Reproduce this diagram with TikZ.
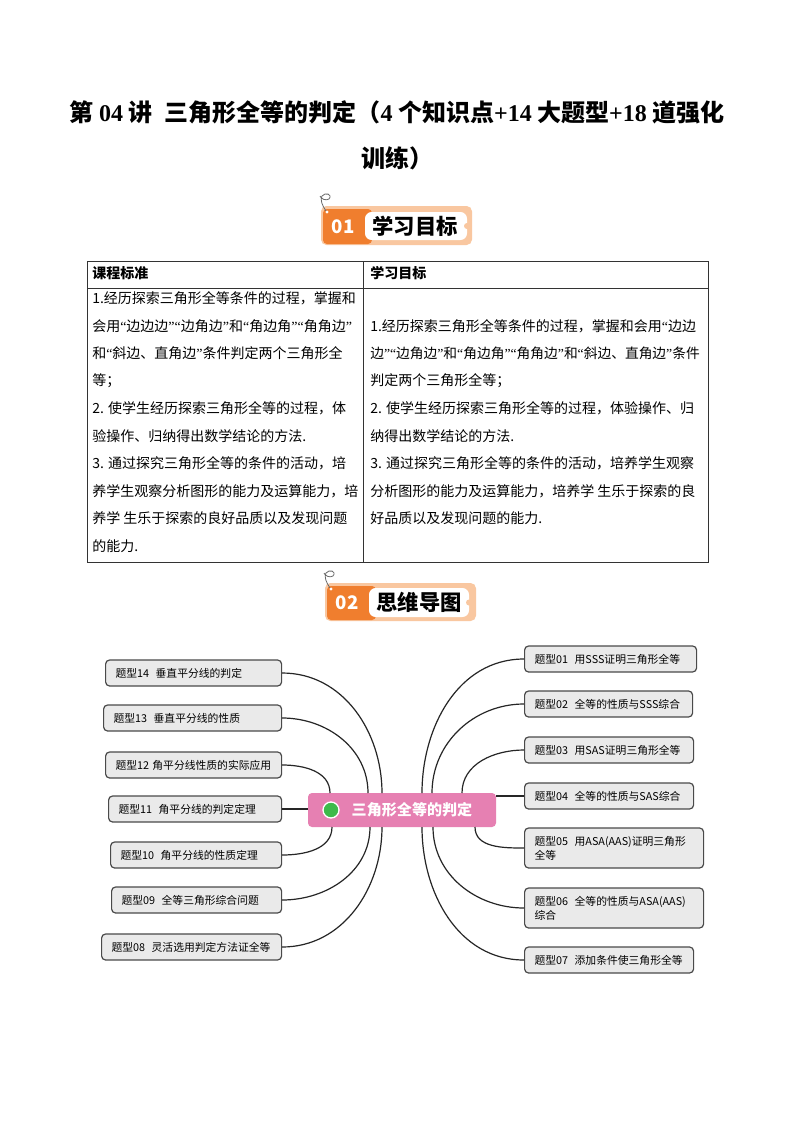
\documentclass[tikz,border=0pt]{standalone}
\usepackage{fontspec}
\setmainfont{Noto Sans CJK SC}
\newfontfamily\tnr{Liberation Serif}
\definecolor{bdgorange}{HTML}{F07E2E}
\definecolor{bdglight}{HTML}{F9C7A0}
\definecolor{tblline}{HTML}{333333}
\definecolor{boxfill}{HTML}{EAEAEA}
\definecolor{boxline}{HTML}{4A4A4A}
\definecolor{ctrpink}{HTML}{E680B2}
\definecolor{ctrgreen}{HTML}{3DBA4A}
\definecolor{curl}{HTML}{6A6A6A}
\newcommand\oq{{\tnr “}}
\newcommand\cq{{\tnr ”}}
\begin{document}
\begin{tikzpicture}[x=0.75pt,y=-0.75pt,
  tl/.style={anchor=west, inner sep=0pt, font=\fontsize{10.5}{12}\selectfont},
  th/.style={anchor=west, inner sep=0pt, font=\bfseries\fontsize{10.5}{12}\selectfont},
  tbl/.style={draw=tblline, line width=0.7pt},
  mmbox/.style={draw=boxline, fill=boxfill, line width=0.9pt, rounded corners=3pt,
     anchor=west, inner xsep=7.5pt, inner ysep=0pt, minimum height=19.5pt,
     text width=#1, align=left, font=\fontsize{8.1}{10.5}\selectfont},
  conn/.style={draw=black!85, line width=0.9pt},
  bdgnum/.style={inner sep=0pt, text=white, font=\bfseries\fontsize{14}{16}\selectfont},
  bdgtxt/.style={inner sep=0pt, text=black, font=\bfseries\fontsize{16}{18}\selectfont}
]
\useasboundingbox (0,0) rectangle (794,1122);
\fill[white] (0,0) rectangle (794,1122);

% ---------- title ----------
\node[inner sep=0pt, font=\bfseries\fontsize{18}{22}\selectfont] (title1) at (397,112)
  {第 {\tnr 04} 讲\hspace{0.5em}三角形全等的判定（{\tnr 4} 个知识点{\tnr +14} 大题型{\tnr +18} 道强化};
\node[inner sep=0pt, font=\bfseries\fontsize{18}{22}\selectfont] (title2) at (397,158) {训练）};

% ---------- badge 01 ----------
\fill[bdglight, rounded corners=4pt] (321,206) rectangle (472,245);
\fill[bdgorange, rounded corners=3pt] (323,209) rectangle (372,244);
\fill[white, rounded corners=5pt] (365,212) rectangle (467,240);
\fill[bdglight] (467,226) circle (3);
\fill[white] (327,212) circle (1.6);
\draw[curl, line width=0.6pt] (326,211) .. controls (322,205) and (320,200) .. (322,196)
  .. controls (325,192) and (333,194) .. (329,199) .. controls (326,201) and (321,199) .. (320,196);
\node[bdgnum] (b1num) at (343,227) {01};
\node[bdgtxt] (b1txt) at (415,226) {学习目标};

% ---------- table ----------
\draw[tbl] (87,261) rectangle (708,562);
\draw[tbl] (87,288) -- (708,288);
\draw[tbl] (363,261) -- (363,562);
\node[th] (h1) at (92,273) {课程标准};
\node[th] (h2) at (370,273) {学习目标};

\node[tl] (l0) at (92,298.5) {1.经历探索三角形全等条件的过程，掌握和};
\node[tl] (l1) at (92,326) {会用\oq 边边边\cq\oq 边角边\cq 和\oq 角边角\cq\oq 角角边\cq};
\node[tl] (l2) at (92,353.5) {和\oq 斜边、直角边\cq 条件判定两个三角形全};
\node[tl] (l3) at (92,381) {等；};
\node[tl] (l4) at (92,408.5) {2. 使学生经历探索三角形全等的过程，体};
\node[tl] (l5) at (92,436) {验操作、归纳得出数学结论的方法.};
\node[tl] (l6) at (92,463.5) {3. 通过探究三角形全等的条件的活动，培};
\node[tl] (l7) at (92,491) {养学生观察分析图形的能力及运算能力，培};
\node[tl] (l8) at (92,518.5) {养学 生乐于探索的良好品质以及发现问题};
\node[tl] (l9) at (92,546) {的能力.};

\node[tl] (r1) at (370,326) {1.经历探索三角形全等条件的过程，掌握和会用\oq 边边};
\node[tl, font=\fontsize{10.3}{12}\selectfont] (r2) at (370,353.5) {边\cq\oq 边角边\cq 和\oq 角边角\cq\oq 角角边\cq 和\oq 斜边、直角边\cq 条件};
\node[tl] (r3) at (370,381) {判定两个三角形全等；};
\node[tl] (r4) at (370,408.5) {2. 使学生经历探索三角形全等的过程，体验操作、归};
\node[tl] (r5) at (370,436) {纳得出数学结论的方法.};
\node[tl] (r6) at (370,463.5) {3. 通过探究三角形全等的条件的活动，培养学生观察};
\node[tl] (r7) at (370,491) {分析图形的能力及运算能力，培养学 生乐于探索的良};
\node[tl] (r8) at (370,518.5) {好品质以及发现问题的能力.};

% ---------- badge 02 ----------
\fill[bdglight, rounded corners=4pt] (325,583) rectangle (476,621);
\fill[bdgorange, rounded corners=3pt] (327,586) rectangle (376,620);
\fill[white, rounded corners=5pt] (369,588) rectangle (469,617);
\fill[bdglight] (469,602.5) circle (3);
\fill[white] (331,589) circle (1.6);
\draw[curl, line width=0.6pt] (330,588) .. controls (326,582) and (324,577) .. (326,573)
  .. controls (329,569) and (337,571) .. (333,576) .. controls (330,578) and (325,576) .. (324,573);
\node[bdgnum] (b2num) at (347,603) {02};
\node[bdgtxt] (b2txt) at (419,602) {思维导图};

% ---------- mind map ----------
\node[fill=ctrpink, rounded corners=3pt, minimum width=141pt, minimum height=25.5pt, inner sep=0pt] (ctr) at (402,810) {};
\node[circle, fill=ctrgreen, draw=white, line width=1pt, minimum size=12pt, inner sep=0pt] (dot) at (331,810) {};
\node[inner sep=0pt, text=white, font=\bfseries\fontsize{11.3}{13}\selectfont] (ctrtxt) at (412,809.5) {三角形全等的判定};

% left boxes
\node[mmbox=117pt] (n14) at (105,673) {\mbox{题型14\hspace{0.6em}垂直平分线的判定}};
\node[mmbox=118.5pt] (n13) at (103,718) {\mbox{题型13\hspace{0.6em}垂直平分线的性质}};
\node[mmbox=117pt] (n12) at (105,765) {\mbox{题型12\hspace{0.3em}角平分线性质的实际应用}};
\node[mmbox=114.75pt] (n11) at (108,809) {\mbox{题型11\hspace{0.6em}角平分线的判定定理}};
\node[mmbox=113.25pt] (n10) at (110,855) {\mbox{题型10\hspace{0.6em}角平分线的性质定理}};
\node[mmbox=112.5pt] (n09) at (111,900) {\mbox{题型09\hspace{0.6em}全等三角形综合问题}};
\node[mmbox=120pt] (n08) at (101,947) {\mbox{题型08\hspace{0.6em}灵活选用判定方法证全等}};

% right boxes
\node[mmbox=114pt] (n01) at (524,659) {\mbox{题型01\hspace{0.6em}用SSS证明三角形全等}};
\node[mmbox=111pt] (n02) at (524,704) {\mbox{题型02\hspace{0.6em}全等的性质与SSS综合}};
\node[mmbox=111.75pt] (n03) at (524,750) {\mbox{题型03\hspace{0.6em}用SAS证明三角形全等}};
\node[mmbox=111.75pt] (n04) at (524,796) {\mbox{题型04\hspace{0.6em}全等的性质与SAS综合}};
\node[mmbox=119.25pt, minimum height=30pt] (n05) at (524,848) {\mbox{题型05\hspace{0.6em}用ASA(AAS)证明三角形}\\全等};
\node[mmbox=119.25pt, minimum height=30pt] (n06) at (524,908) {\mbox{题型06\hspace{0.6em}全等的性质与ASA(AAS)}\\综合};
\node[mmbox=111.75pt] (n07) at (524,960) {\mbox{题型07\hspace{0.6em}添加条件使三角形全等}};

% attachment points on the centre node
\coordinate (t14) at (382,793);
\coordinate (t13) at (368,793);
\coordinate (t12) at (330,793);
\coordinate (b10) at (332,827);
\coordinate (b09) at (370,827);
\coordinate (b08) at (382,827);
\coordinate (t01) at (422,793);
\coordinate (t02) at (432,793);
\coordinate (t03) at (462,793);
\coordinate (b05) at (475,827);
\coordinate (b06) at (433,827);
\coordinate (b07) at (422,827);

% connectors
\draw[conn] (n14.east) to[out=0,in=90] (t14);
\draw[conn] (n13.east) to[out=0,in=90] (t13);
\draw[conn] (n12.east) to[out=0,in=90] (t12);
\draw[conn] (n11.east) -- (n11.east -| ctr.west);
\draw[conn] (n10.east) to[out=0,in=-90] (b10);
\draw[conn] (n09.east) to[out=0,in=-90] (b09);
\draw[conn] (n08.east) to[out=0,in=-90] (b08);
\draw[conn] (n01.west) to[out=180,in=90] (t01);
\draw[conn] (n02.west) to[out=180,in=90] (t02);
\draw[conn] (n03.west) to[out=180,in=90] (t03);
\draw[conn] (n04.west -| ctr.east) -- (n04.west);
\draw[conn] (n05.west) to[out=180,in=-90] (b05);
\draw[conn] (n06.west) to[out=180,in=-90] (b06);
\draw[conn] (n07.west) to[out=180,in=-90] (b07);
\end{tikzpicture}
\end{document}
